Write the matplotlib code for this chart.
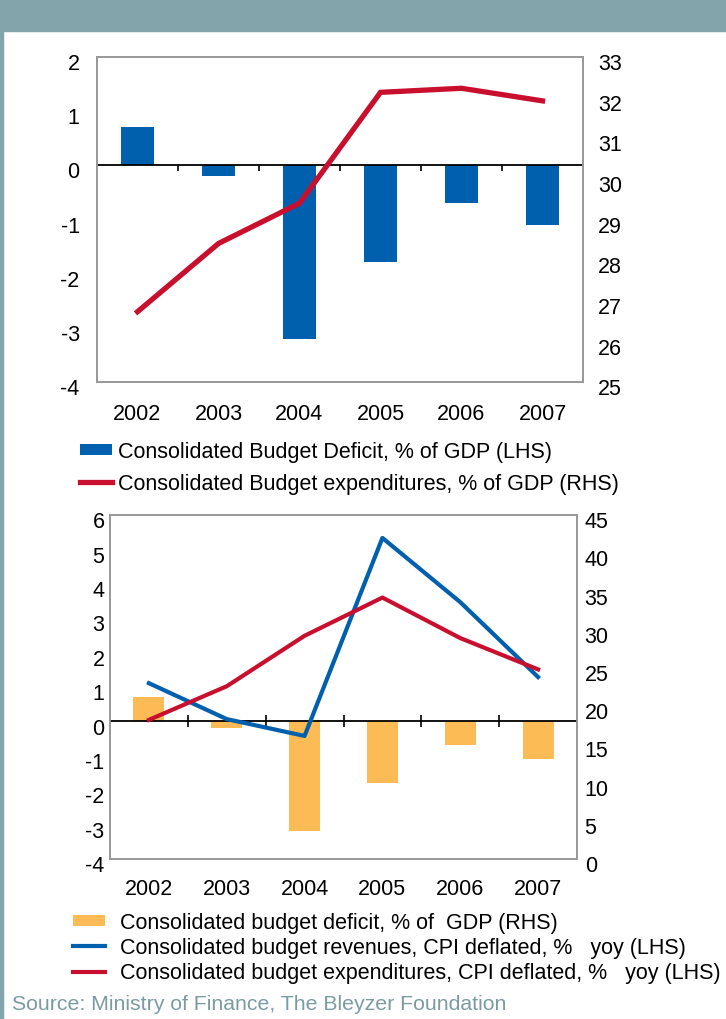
import numpy as np
import matplotlib.pyplot as plt
from matplotlib.patches import Rectangle
from matplotlib.transforms import ScaledTranslation

plt.rcParams['font.family'] = ['Liberation Sans', 'DejaVu Sans']
plt.rcParams['font.size'] = 15.5
plt.rcParams['axes.unicode_minus'] = False

# datos
years = ['2002', '2003', '2004', '2005', '2006', '2007']
deficit = [0.70, -0.20, -3.20, -1.78, -0.70, -1.10]        # % del PIB
exp_gdp = [26.73, 28.41, 29.40, 32.13, 32.23, 31.92]       # gasto, % del PIB
rev_real = [23.0, 18.3, 16.1, 42.0, 33.6, 23.8]            # ingresos reales, % yoy
exp_real = [18.2, 22.6, 29.2, 34.2, 28.9, 24.8]            # gasto real, % yoy

azul = '#0060AD'
rojo = '#C8102E'
naranja = '#FDBB55'
marco = '#9A9A9A'
gris_azul = '#84A4AC'
fs = 15.5

W, H = 726, 1020
fig = plt.figure(figsize=(W / 100, H / 100), dpi=100)

# franja superior y borde izquierdo
fig.patches.append(Rectangle((0, 1 - 32 / H), 1, 32 / H, transform=fig.transFigure,
                             color=gris_azul, zorder=0))
fig.patches.append(Rectangle((0, 0), 3 / W, 1, transform=fig.transFigure,
                             color=gris_azul, zorder=0))

x = np.arange(len(years))
bordes = np.arange(0.5, len(years) - 1)
bajar = ScaledTranslation(0, -3 / 72, fig.dpi_scale_trans)


def estilo(ax, ax2, pad_izq, pad_der, pad_x):
    for a in (ax, ax2):
        for s in a.spines.values():
            s.set_color(marco)
            s.set_linewidth(1.3)
    ax.set_xlim(-0.5, len(years) - 0.5)
    ax.set_xticks(x)
    ax.set_xticklabels(years)
    ax.tick_params(axis='x', length=0, pad=pad_x)
    ax.tick_params(axis='y', length=0, pad=pad_izq)
    ax2.tick_params(axis='y', length=0, pad=pad_der)
    ax.axhline(0, color='black', lw=1.3, zorder=3)
    # etiquetas de y un poco por debajo de su valor
    for lab in ax.get_yticklabels() + ax2.get_yticklabels():
        lab.set_transform(lab.get_transform() + bajar)


# Panel 1 ----------------------------------------------------------------
ax1 = fig.add_axes([97 / W, 1 - 383 / H, 486 / W, 325 / H])
b1 = ax1.bar(x, deficit, width=0.4, color=azul, zorder=2)
ax1.plot(bordes, np.zeros(len(bordes)), ls='none', marker=3, ms=4, mew=1.2,
         color='black', zorder=4)
ax1.set_ylim(-4, 2)
ax1.set_yticks(np.arange(-4, 3, 1))
ax1b = ax1.twinx()
l1, = ax1b.plot(x, exp_gdp, color=rojo, lw=3.8, solid_joinstyle='miter')
ax1b.set_ylim(25, 33)
ax1b.set_yticks(np.arange(25, 34, 1))
estilo(ax1, ax1b, 12.5, 11, 15)

fig.legend([b1, l1],
           ['Consolidated Budget Deficit, % of GDP (LHS)',
            'Consolidated Budget expenditures, % of GDP (RHS)'],
           loc='upper left', bbox_to_anchor=(80 / W, 1 - 442 / H), frameon=False,
           borderpad=0, borderaxespad=0, handlelength=1.5, handleheight=0.42,
           handletextpad=0.25, labelspacing=0.49, fontsize=fs)

# Panel 2 ----------------------------------------------------------------
ax2 = fig.add_axes([110 / W, 1 - 860 / H, 467 / W, 344 / H])
b2 = ax2.bar(x, deficit, width=0.4, color=naranja, zorder=2)
ax2.plot(bordes, np.zeros(len(bordes)), ls='none', marker='|', ms=8, mew=1.2,
         color='black', zorder=4)
ax2.set_ylim(-4, 6)
ax2.set_yticks(np.arange(-4, 7, 1))
ax2b = ax2.twinx()
l2, = ax2b.plot(x, rev_real, color=azul, lw=3.0)
l3, = ax2b.plot(x, exp_real, color=rojo, lw=3.0)
ax2b.set_ylim(0, 45)
ax2b.set_yticks(np.arange(0, 50, 5))
estilo(ax2, ax2b, 4, 5.5, 14)

fig.legend([b2, l2, l3],
           ['Consolidated budget deficit, % of  GDP (RHS)',
            'Consolidated budget revenues, CPI deflated, %   yoy (LHS)',
            'Consolidated budget expenditures, CPI deflated, %   yoy (LHS)'],
           loc='upper left', bbox_to_anchor=(73 / W, 1 - 913 / H), frameon=False,
           borderpad=0, borderaxespad=0, handlelength=1.5, handleheight=0.42,
           handletextpad=0.7, labelspacing=0.19, fontsize=fs)

fig.text(12 / W, 1 - 1005 / H, 'Source: Ministry of Finance, The Bleyzer Foundation',
         color='#7B9BA3', fontsize=15.3, va='center', ha='left')

plt.savefig('out.png', dpi=100)
